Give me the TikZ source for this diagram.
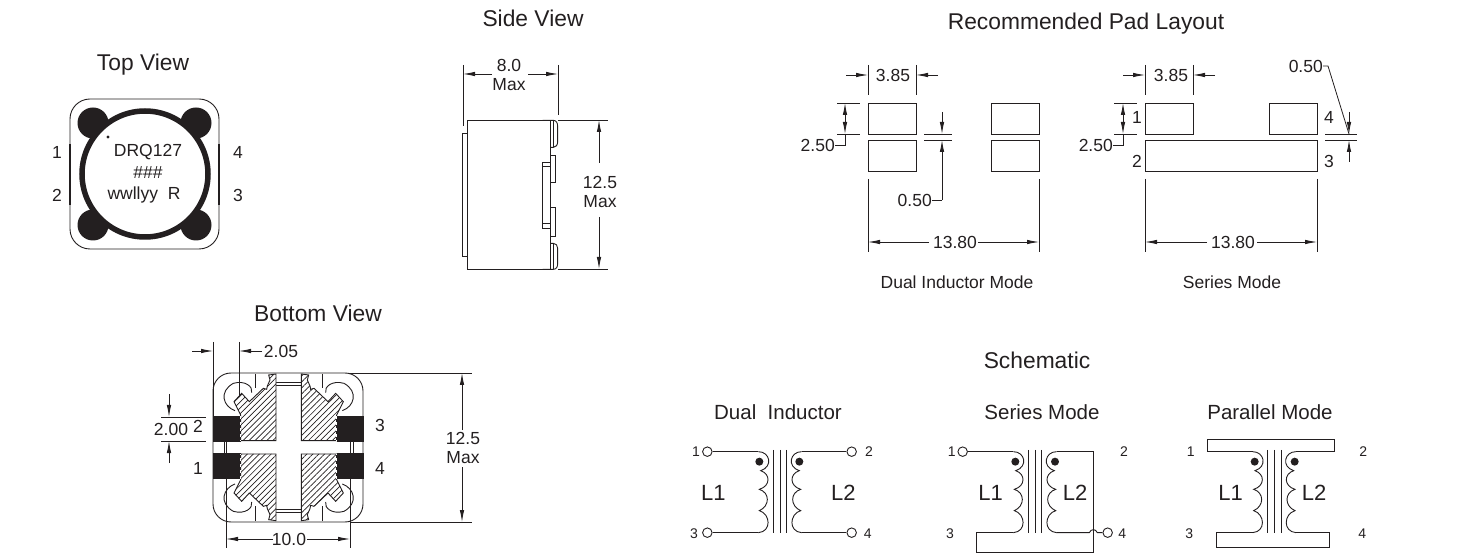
\documentclass[tikz,border=0pt]{standalone}
\usepackage{fontspec}
\setmainfont{Liberation Sans}
\usepackage{color}
\usetikzlibrary{arrows.meta,patterns.meta}
\definecolor{ink}{HTML}{231F20}
\tikzset{
  title/.style={font=\fontsize{22.8}{25}\selectfont,text=ink,inner sep=0pt},
  subtitle/.style={font=\fontsize{20.5}{23}\selectfont,text=ink,inner sep=0pt},
  dimtext/.style={font=\fontsize{17.5}{20}\selectfont,text=ink,inner sep=0pt},
  small/.style={font=\fontsize{14}{16}\selectfont,text=ink,inner sep=0pt},
  coillabel/.style={font=\fontsize{22}{24}\selectfont,text=ink,inner sep=0pt},
  outline/.style={draw=ink,line width=0.9pt},
  dimline/.style={draw=ink,line width=0.8pt,-{Latex[length=12pt,width=4.5pt]}},
  twoway/.style={draw=ink,line width=0.8pt,{Latex[length=12pt,width=4.5pt]}-{Latex[length=12pt,width=4.5pt]}},
  extline/.style={draw=ink,line width=0.8pt},
  zoomed/.style={x=0.33333pt,y=-0.33333pt},
  terminal/.style={circle,draw=ink,fill=white,line width=0.9pt,minimum size=9.5pt,inner sep=0pt},
  hatched/.style={draw=ink,line width=0.9pt,fill=white,postaction={pattern={Lines[angle=45,distance=4.2pt,line width=0.7pt]},pattern color=ink}}
}
% one transformer, coordinates are relative to the middle of the core
\newcommand{\transformer}[3]{%
  \foreach \corex in {-20,0,20} \draw[outline] (\corex,150) -- (\corex,400);
  \foreach \side in {-1,1} {
    \draw[outline,xscale=\side] (65,155) .. controls (30,155) and (20,200) .. (58,212)
      .. controls (28,222) and (28,258) .. (62,268)
      .. controls (30,278) and (30,318) .. (62,332)
      .. controls (28,342) and (25,395) .. (65,398);
  }
  \fill[ink] (#1,185) circle (12);
  \fill[ink] (#2,185) circle (12);
  \coordinate (#3lt) at (-65,155);
  \coordinate (#3lb) at (-65,398);
  \coordinate (#3rt) at (65,155);
  \coordinate (#3rb) at (65,398);
}

\begin{document}
\begin{tikzpicture}[x=1pt,y=-1pt]
\useasboundingbox (0,0) rectangle (1460,553);

% top view
\node[title] (toptitle) at (143,65) {Top View};
\draw[outline,rounded corners=20pt] (70,99) rectangle (219,249);
\draw[draw=ink,line width=1.6pt] (70,144) -- (70,205) (219,144) -- (219,205);
\foreach \padx/\pady in {93/123,196/123,93/225,196/225}
  \fill[ink] (\padx,\pady) circle (15.5);
\draw[draw=ink,fill=white,line width=5.5pt] (145,174) circle (63);
\fill[ink] (108,137) circle (1.7);
\node[dimtext] (partname) at (148,152) {DRQ127};
\node[dimtext] (partcode) at (148,173) {\#\#\#};
\node[dimtext] (partdate) at (144,195) {wwllyy\ \ R};
\node[dimtext] (topa) at (57,152) {1};
\node[dimtext] (topb) at (57,195) {2};
\node[dimtext] (topd) at (238,152) {4};
\node[dimtext] (topc) at (238,195) {3};

% side view
\node[title] (sidetitle) at (533,18) {Side View};
\begin{scope}[shift={(430,10)},zoomed]
\draw[outline] (360,331) -- (113,331) -- (113,778) -- (360,778);
\draw[outline] (113,371) -- (98,371) -- (98,740) -- (113,740);
\draw[outline] (360,331) -- (360,778);
\draw[outline] (338,331) -- (370,331) .. controls (380,331) and (383,340) .. (383,350) -- (383,395) .. controls (383,405) and (378,412) .. (370,412) -- (360,412);
\draw[outline] (338,778) -- (370,778) .. controls (380,778) and (383,770) .. (383,760) -- (383,715) .. controls (383,707) and (378,700) .. (370,700) -- (360,700);
\draw[outline] (370,331) -- (370,412) (370,700) -- (370,778);
\draw[outline] (360,435) -- (376,435) -- (376,518) -- (360,518);
\draw[outline] (360,592) -- (376,592) -- (376,680) -- (360,680);
\draw[outline] (360,458) -- (338,458) -- (338,655) -- (360,655);
\draw[outline] (338,470) -- (360,470) (338,640) -- (360,640);
\end{scope}
\draw[extline] (463,65) -- (463,126) (558,65) -- (558,115);
\draw[dimline] (492,74) -- (463,74);
\draw[dimline] (528,74) -- (558,74);
\node[dimtext] (sidewidth) at (509,65) {8.0};
\node[dimtext] (sidewmax) at (509,85) {Max};
\draw[extline] (558,120) -- (608,120) (558,269) -- (608,269);
\draw[dimline] (599,163) -- (599,120);
\draw[dimline] (599,217) -- (599,269);
\node[dimtext] (sideheight) at (600,182) {12.5};
\node[dimtext] (sidehmax) at (600,202) {Max};

% bottom view
\node[title] (bottomtitle) at (318,313) {Bottom View};
\draw[outline,rounded corners=18pt] (213,373) rectangle (363,522);
\foreach \sx in {-1,1} \foreach \sy in {-1,1} {
  \begin{scope}[shift={(288.67,447.33)},zoomed]
  \fill[ink] ({\sx*226},{\sy*94}) rectangle ({\sx*144},{\sy*17});
  \draw[extline] ({\sx*101},{\sy*220}) -- ({\sx*101},{\sy*177});
  \draw[extline] ({\sx*38},{\sy*194}) -- (0,{\sy*194}) ({\sx*38},{\sy*186}) -- (0,{\sy*186});
  \draw[extline] ({\sx*194},{\sy*17}) -- ({\sx*194},0) ({\sx*186},{\sy*17}) -- ({\sx*186},0);
  \draw[outline] ({\sx*161},{\sy*110}) .. controls ({\sx*196},{\sy*122}) and ({\sx*211},{\sy*167}) .. ({\sx*166},{\sy*192}) .. controls ({\sx*131},{\sy*202}) and ({\sx*106},{\sy*182}) .. ({\sx*111},{\sy*164});
  \draw[hatched] ({\sx*60},{\sy*217}) -- ({\sx*38},{\sy*220}) -- ({\sx*38},{\sy*20}) -- ({\sx*144},{\sy*20}) -- ({\sx*144},{\sy*97}) -- ({\sx*164},{\sy*137}) -- ({\sx*141},{\sy*162}) -- ({\sx*118},{\sy*137}) -- ({\sx*76},{\sy*177}) -- ({\sx*66},{\sy*174}) -- ({\sx*64},{\sy*184}) -- ({\sx*56},{\sy*202}) -- cycle;
  \draw[white,line width=0.8pt,dashed] ({\sx*144},{\sy*94}) -- ({\sx*144},{\sy*20});
  \end{scope}
}
\draw[extline] (213,342) -- (213,417) (239,342) -- (239,397);
\draw[dimline] (192,351) -- (213,351);
\draw[dimline] (262,351) -- (239,351);
\node[dimtext] (cornerdim) at (281,351) {2.05};
\draw[extline] (161,417) -- (206,417) (161,441) -- (206,441);
\draw[dimline] (169,394) -- (169,417);
\draw[dimline] (169,463) -- (169,441);
\node[dimtext] (paddim) at (171,429) {2.00};
\node[dimtext] (bota) at (198,468) {1};
\node[dimtext] (botb) at (198,426) {2};
\node[dimtext] (botc) at (380,425) {3};
\node[dimtext] (botd) at (380,468) {4};
\draw[extline] (350,373) -- (472,373) (350,522) -- (472,522);
\draw[dimline] (462,430) -- (462,373);
\draw[dimline] (462,467) -- (462,522);
\node[dimtext] (botheight) at (463,438) {12.5};
\node[dimtext] (bothmax) at (463,458) {Max};
\draw[extline] (226,479) -- (226,548) (350,479) -- (350,548);
\draw[dimline] (273,539) -- (226,539);
\draw[dimline] (307,539) -- (350,539);
\node[dimtext] (botwidth) at (289,539) {10.0};

% pad layout
\node[title] (padtitle) at (1086,24) {Recommended Pad Layout};
\foreach \padx in {868,991} {
  \draw[outline] (\padx,103) rectangle ++(48,31);
  \draw[outline] (\padx,140) rectangle ++(48,31);
}
\draw[extline] (868,65) -- (868,95) (916,65) -- (916,95);
\draw[dimline] (846,75) -- (868,75);
\draw[dimline] (938,75) -- (916,75);
\node[dimtext] (dualwidth) at (893,75) {3.85};
\draw[extline] (837,103) -- (860,103) (837,134) -- (860,134);
\draw[twoway] (845,103) -- (845,134);
\draw[extline] (845,134) -- (845,145) -- (835,145);
\node[dimtext,anchor=east] (dualheight) at (835,145) {2.50};
\draw[extline] (924,134) -- (952,134) (924,140) -- (952,140);
\draw[dimline] (942,112) -- (942,134);
\draw[dimline] (942,200) -- (942,140);
\draw[extline] (942,200) -- (932,200);
\node[dimtext,anchor=east] (dualgap) at (932,200) {0.50};
\draw[extline] (868,179) -- (868,252) (1039,179) -- (1039,252);
\draw[dimline] (929,242) -- (868,242);
\draw[dimline] (978,242) -- (1039,242);
\node[dimtext] (dualspan) at (955,242) {13.80};
\node[dimtext] (dualcaption) at (957,282) {Dual Inductor Mode};

\draw[outline] (1145,103) rectangle (1193,134);
\draw[outline] (1269,103) rectangle (1317,134);
\draw[outline] (1145,140) rectangle (1317,171);
\draw[extline] (1145,65) -- (1145,95) (1193,65) -- (1193,95);
\draw[dimline] (1123,75) -- (1145,75);
\draw[dimline] (1215,75) -- (1193,75);
\node[dimtext] (serwidth) at (1171,75) {3.85};
\draw[extline] (1114,103) -- (1137,103) (1114,134) -- (1137,134);
\draw[twoway] (1123,103) -- (1123,134);
\draw[extline] (1123,134) -- (1123,145) -- (1113,145);
\node[dimtext,anchor=east] (serheight) at (1113,145) {2.50};
\node[dimtext] (sera) at (1137,117) {1};
\node[dimtext] (serb) at (1137,161) {2};
\node[dimtext] (serd) at (1329,117) {4};
\node[dimtext] (serc) at (1329,161) {3};
\draw[extline] (1325,134) -- (1357,134) (1325,140) -- (1357,140);
\draw[dimline] (1349,112) -- (1349,134);
\draw[dimline] (1349,162) -- (1349,140);
\draw[extline] (1323,66) -- (1328,66) -- (1349,134);
\node[dimtext,anchor=east] (sergap) at (1323,66) {0.50};
\draw[extline] (1145,179) -- (1145,252) (1317,179) -- (1317,252);
\draw[dimline] (1207,242) -- (1145,242);
\draw[dimline] (1257,242) -- (1317,242);
\node[dimtext] (serspan) at (1233,242) {13.80};
\node[dimtext] (sercaption) at (1232,282) {Series Mode};

% schematics
\node[title] (schemtitle) at (1037,360) {Schematic};
\node[subtitle] (dualtitle) at (778,412) {Dual\ \ Inductor};
\node[subtitle] (seriestitle) at (1042,412) {Series Mode};
\node[subtitle] (paralleltitle) at (1270,412) {Parallel Mode};

\begin{scope}[shift={(780,400)},zoomed]
\transformer{-62}{58}{d}
\node[terminal] (done) at (-218,155) {};
\node[terminal] (dthree) at (-218,398) {};
\node[terminal] (dtwo) at (215,155) {};
\node[terminal] (dfour) at (215,398) {};
\draw[outline] (done) -- (dlt);
\draw[outline] (dthree) -- (dlb);
\draw[outline] (dtwo) -- (drt);
\draw[outline] (dfour) -- (drb);
\node[small] (dlabela) at (-252,155) {1};
\node[small] (dlabelc) at (-258,400) {3};
\node[small] (dlabelb) at (267,155) {2};
\node[small] (dlabeld) at (263,400) {4};
\node[coillabel] (done l) at (-200,278) {L1};
\node[coillabel] (dtwo l) at (190,278) {L2};
\end{scope}

\begin{scope}[shift={(1035,400)},zoomed]
\transformer{-59}{60}{s}
\node[terminal] (sone) at (-217,155) {};
\node[terminal] (sfour) at (218,398) {};
\coordinate (scorna) at (175,155);
\coordinate (scornb) at (175,458);
\coordinate (scornc) at (-175,458);
\coordinate (scornd) at (-175,398);
\coordinate (shopa) at (163,398);
\coordinate (shopb) at (187,398);
\draw[outline] (sone) -- (slt);
\draw[outline] (srt) -- (scorna) -- (scornb) -- (scornc) -- (scornd) -- (slb);
\draw[outline] (srb) -- (shopa) .. controls (168,386) and (182,386) .. (shopb) -- (sfour);
\node[small] (slabela) at (-250,155) {1};
\node[small] (slabelc) at (-255,400) {3};
\node[small] (slabelb) at (267,155) {2};
\node[small] (slabeld) at (262,400) {4};
\node[coillabel] (sone l) at (-133,278) {L1};
\node[coillabel] (stwo l) at (120,278) {L2};
\end{scope}

\begin{scope}[shift={(1274.33,400)},zoomed]
\transformer{-59}{61}{p}
\coordinate (pta) at (-201,155);
\coordinate (ptb) at (-201,117);
\coordinate (ptc) at (179,117);
\coordinate (ptd) at (179,155);
\coordinate (pba) at (-175,398);
\coordinate (pbb) at (-175,442);
\coordinate (pbc) at (165,442);
\coordinate (pbd) at (165,398);
\draw[outline] (plt) -- (pta) -- (ptb) -- (ptc) -- (ptd) -- (prt);
\draw[outline] (plb) -- (pba) -- (pbb) -- (pbc) -- (pbd) -- (prb);
\node[small] (plabela) at (-251,155) {1};
\node[small] (plabelc) at (-255,400) {3};
\node[small] (plabelb) at (267,155) {2};
\node[small] (plabeld) at (264,400) {4};
\node[coillabel] (pone l) at (-131,278) {L1};
\node[coillabel] (ptwo l) at (119,278) {L2};
\end{scope}
\end{tikzpicture}
\end{document}
